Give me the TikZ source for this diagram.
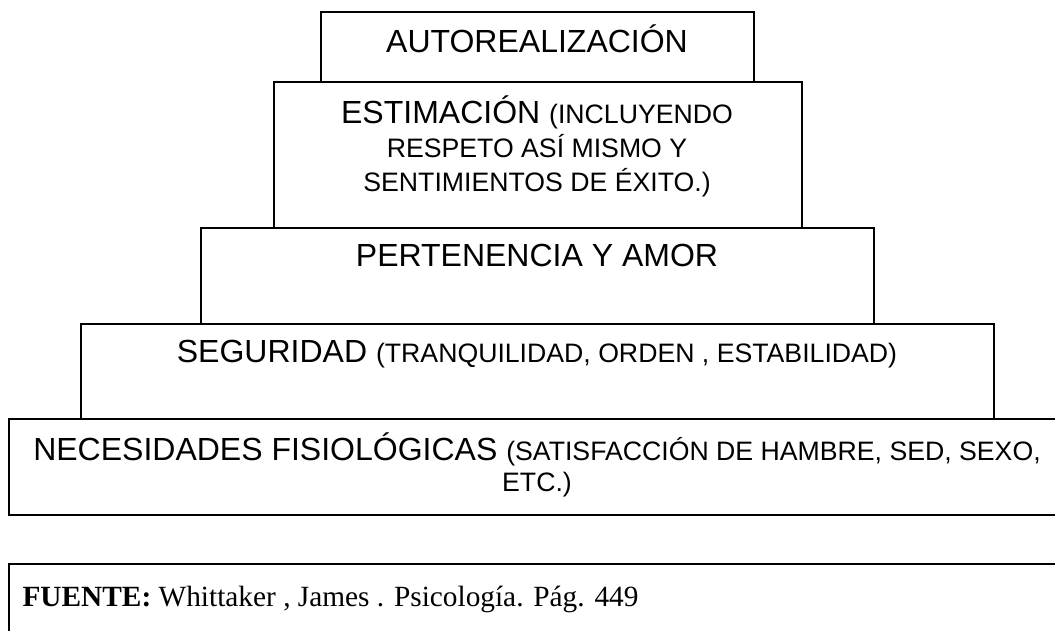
\documentclass[tikz,border=0pt]{standalone}
\usepackage{fontspec}
\setmainfont{Liberation Serif}
\newfontfamily\arial{Liberation Sans}
\usetikzlibrary{positioning}
\begin{document}
\begin{tikzpicture}[x=0.375pt,y=-0.375pt]
			\tikzstyle{b} = [draw, shape=rectangle, line width=0.6pt, inner sep=0pt, anchor=north west]
			\tikzstyle{t} = [anchor=base, inner sep=0pt, font=\arial\fontsize{12}{13.8}\selectfont]
			\tikzstyle{f} = [anchor=base west, inner sep=0pt, font=\fontsize{11}{12.6}\selectfont]
			\newcommand{\sm}{\fontsize{10}{11.5}\selectfont}
			\useasboundingbox (0,0) rectangle (1055,630);
			\clip (0,0) rectangle (1055,630);
			\node[b, minimum width=162.4pt, minimum height=26.25pt] (autor) at (320,11) {};
			\node[b, minimum width=198pt, minimum height=54.75pt] (estim) at (273,81) {};
			\node[b, minimum width=252.4pt, minimum height=36pt] (perten) at (200,227) {};
			\node[b, minimum width=342.4pt, minimum height=35.6pt] (segur) at (80,323) {};
			\node[b, minimum width=397.5pt, minimum height=36pt] (necesid) at (8,418) {};
			\node[b, minimum width=397.5pt, minimum height=34pt] (fuente) at (8,563) {};
			\node[t] (autor-txt) at (537,52) {AUTOREALIZACIÓN};
			\node[t] (estim-a) at (537,123) {ESTIMACIÓN {\sm(INCLUYENDO}};
			\node[t] (estim-b) at (537,157) {\sm RESPETO ASÍ MISMO Y};
			\node[t] (estim-c) at (537,191) {\sm SENTIMIENTOS DE ÉXITO.)};
			\node[t] (perten-txt) at (537,266) {PERTENENCIA Y AMOR};
			\node[t] (segur-txt) at (537,362) {SEGURIDAD {\sm(TRANQUILIDAD, ORDEN , ESTABILIDAD)}};
			\node[t] (necesid-a) at (537,460) {NECESIDADES FISIOLÓGICAS {\sm(SATISFACCIÓN DE HAMBRE, SED, SEXO,}};
			\node[t] (necesid-b) at (537,491) {\sm ETC.)};
			\node[f] (fuente-txt) at (22,606) {\textbf{FUENTE:} Whittaker , James . Psicología. Pág. 449};
		\end{tikzpicture}
\end{document}
